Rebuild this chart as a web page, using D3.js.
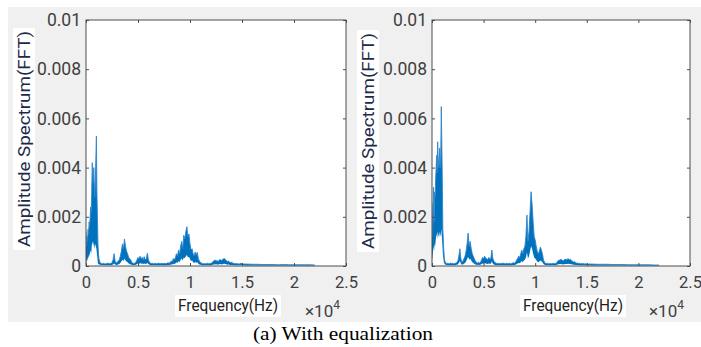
<!DOCTYPE html>
<html>
<head>
<meta charset="utf-8">
<script src="https://cdn.jsdelivr.net/npm/d3@7"></script>
<style>
  body { margin: 0; background: #fff; }
  svg { display: block; }
</style>
</head>
<body>
<svg id="chart" width="701" height="347"></svg>
<script>
// frequency grid (Hz) shared by both spectra
const FREQ_HZ = [
  0,50,100,150,200,250,300,350,400,450,500,550,600,650,700,750,800,850,900,950,1000,1050,1100,1150,1200,1250,1300,1350,1400,
  1500,1600,1700,1800,1900,2000,2100,2200,2300,2400,
  2500,2600,2700,2800,2900,3000,3100,3200,3300,3400,
  3500,3600,3700,3800,3900,4000,4100,4200,4300,4400,
  4500,4600,4700,4800,4900,5000,5100,5200,5300,5400,
  5500,5600,5700,5800,5900,6000,6100,6200,6300,6400,
  6500,6600,6700,6800,6900,7000,7100,7200,7300,7400,
  7500,7600,7700,7800,7900,8000,8100,8200,8300,8400,
  8500,8600,8700,8800,8900,9000,9100,9200,9300,9400,
  9500,9600,9700,9800,9900,10000,10100,10200,10300,10400,
  10500,10600,10700,10800,10900,11000,11100,11200,11300,11400,
  11500,11600,11700,11800,11900,12000,12100,12200,12300,12400,
  12500,12600,12700,12800,12900,13000,13100,13200,13300,13400,
  13500,13600,13700,13800,13900,14000,14100,14200,14300,14400,
  14500,14600,14700,14800,14900,15000,
  15500,16000,16500,17000,17500,18000,18500,19000,19500,20000,20500,21000,21500,22000
];

// amplitudes in units of 1e-4 : upper envelope (peaks) and lower envelope
const LEFT_HI = [
  14,8,12,10,15,13,18,16,20,24,22,30,42,38,34,40,33,28,36,44,52.8,30,20,9,5,3,2,1.5,1.2,
  1.0,0.9,1.1,0.8,1.0,0.9,1.2,1.0,0.9,1.1,
  1.3,2.5,5.0,2.0,1.2,1.5,2.0,2.5,4.0,6.0,
  9.0,7.0,11.0,8.0,6.0,5.0,3.5,3.0,2.5,1.5,
  1.2,1.0,1.2,1.5,2.5,3.5,2.8,4.0,3.0,3.5,
  2.5,3.8,2.5,3.0,5.2,2.5,1.5,1.2,1.0,1.1,
  0.9,1.0,1.1,0.9,1.0,1.2,0.9,1.0,1.1,0.9,
  1.0,1.1,0.9,1.2,1.3,1.1,1.5,2.0,1.8,3.0,
  2.5,3.5,5.0,4.0,6.5,5.0,8.0,10.0,7.0,12.5,
  11.0,14.0,16.0,12.0,13.0,9.0,6.5,7.0,5.0,4.0,
  5.7,4.5,5.5,3.0,2.0,1.5,1.2,1.0,0.9,1.0,
  0.9,1.0,1.1,0.9,1.0,1.0,1.3,1.8,2.0,2.5,
  2.0,2.2,1.8,2.4,2.6,2.2,2.5,2.8,3.0,2.6,
  2.2,1.8,2.0,1.6,1.4,1.5,1.2,1.1,1.0,0.9,
  1.0,0.9,0.8,0.9,1.2,0.8,
  0.8,0.7,0.7,0.6,0.6,0.6,0.5,0.6,0.5,0.5,0.5,0.5,0.5,0.4
];
const LEFT_LO = [
  0.5,2,3,2,4,3,5,4,6,6,5,8,10,9,8,10,8,7,9,8,7,5,3,1,0.8,0.6,0.5,0.5,0.5,
  0.4,0.3,0.4,0.3,0.4,0.3,0.4,0.3,0.4,0.3,
  0.4,0.6,1.0,0.6,0.4,0.5,0.6,0.8,1.2,1.8,
  2.5,2.0,3.0,2.2,1.8,1.5,1.0,0.8,0.6,0.5,
  0.4,0.3,0.4,0.5,0.8,1.0,0.8,1.2,0.9,1.0,
  0.8,1.0,0.8,0.9,1.2,0.8,0.5,0.4,0.3,0.4,
  0.3,0.4,0.3,0.3,0.4,0.3,0.3,0.4,0.3,0.3,
  0.3,0.4,0.3,0.4,0.4,0.4,0.5,0.6,0.6,0.9,
  0.8,1.0,1.5,1.2,2.0,1.5,2.5,3.0,2.2,3.5,
  3.2,4.0,4.5,3.5,3.8,2.8,2.0,2.2,1.5,1.2,
  1.6,1.3,1.5,0.9,0.6,0.5,0.4,0.3,0.3,0.3,
  0.3,0.3,0.4,0.3,0.3,0.3,0.4,0.5,0.6,0.7,
  0.6,0.7,0.5,0.7,0.8,0.6,0.7,0.8,0.9,0.8,
  0.7,0.5,0.6,0.5,0.4,0.4,0.4,0.3,0.3,0.3,
  0.3,0.3,0.3,0.3,0.4,0.3,
  0.2,0.2,0.2,0.2,0.2,0.2,0.2,0.2,0.2,0.2,0.2,0.2,0.2,0.2
];
const RIGHT_HI = [
  25.6,12,20,32,18,30,28,35,40,45,38,50.5,44,40,42,48,40,45,64.8,50,35,15,10.5,6,3,2,1.5,1.2,1,
  1.1,1.0,0.9,1.2,1.0,1.1,0.9,1.0,1.2,1.4,
  2.0,4.0,7.0,3.0,1.5,2.0,3.0,4.0,6.0,9.0,
  13.4,8.0,10.0,7.0,5.0,4.0,3.0,2.0,1.5,1.2,
  1.5,1.2,1.5,2.5,3.5,3.0,4.0,3.2,3.0,2.5,
  3.5,2.8,3.0,6.5,3.0,2.0,1.4,1.2,1.0,1.1,
  1.0,0.9,1.1,1.0,1.2,1.0,0.9,1.1,1.0,1.0,
  1.1,0.9,1.0,1.2,1.3,1.2,1.5,2.5,3.0,4.0,
  3.5,5.0,6.5,5.0,7.0,8.0,12.0,20.7,10.0,14.0,
  22.0,30.2,25.0,18.0,12.0,10.6,8.0,6.0,5.0,6.0,
  7.7,6.5,5.0,2.5,1.5,1.2,1.0,1.1,0.9,1.0,
  1.0,0.9,1.1,1.0,1.0,1.0,1.5,2.0,2.5,2.2,
  2.8,2.3,2.0,2.4,2.8,2.5,2.7,3.0,2.5,2.8,
  2.2,2.0,1.6,1.8,1.4,1.2,1.2,1.0,1.1,0.9,
  1.0,0.9,1.0,0.8,0.9,0.8,
  0.8,0.7,0.7,0.7,0.6,0.6,0.6,0.5,0.5,0.5,0.5,0.5,0.4,0.4
];
const RIGHT_LO = [
  2,4,6,8,6,9,8,10,12,13,11,14,13,12,12,14,12,13,15,12,9,5,3,1.5,1,0.7,0.5,0.5,0.4,
  0.4,0.3,0.3,0.4,0.3,0.4,0.3,0.3,0.4,0.5,
  0.6,1.2,2.0,1.0,0.5,0.6,0.9,1.2,1.8,2.8,
  3.8,2.5,3.0,2.2,1.6,1.2,0.9,0.6,0.5,0.4,
  0.5,0.4,0.5,0.8,1.0,0.9,1.2,1.0,0.9,0.8,
  1.0,0.9,0.9,1.8,0.9,0.6,0.4,0.4,0.3,0.4,
  0.3,0.3,0.4,0.3,0.4,0.3,0.3,0.4,0.3,0.3,
  0.4,0.3,0.3,0.4,0.4,0.4,0.5,0.8,1.0,1.2,
  1.1,1.5,2.0,1.5,2.2,2.5,3.5,5.5,3.0,4.0,
  6.0,8.0,7.0,5.0,3.5,3.0,2.4,1.8,1.5,1.8,
  2.2,1.9,1.5,0.8,0.5,0.4,0.3,0.4,0.3,0.3,
  0.3,0.3,0.4,0.3,0.3,0.3,0.5,0.6,0.8,0.7,
  0.8,0.7,0.6,0.7,0.8,0.8,0.8,0.9,0.8,0.8,
  0.7,0.6,0.5,0.5,0.4,0.4,0.4,0.3,0.3,0.3,
  0.3,0.3,0.3,0.3,0.3,0.3,
  0.2,0.2,0.2,0.2,0.2,0.2,0.2,0.2,0.2,0.2,0.2,0.2,0.2,0.2
];
const AMP_UNIT = 1e-4;

const X_TICKS = [0, 5000, 10000, 15000, 20000, 25000];
const Y_TICKS = [0, 0.002, 0.004, 0.006, 0.008, 0.01];
const Y_LABEL = "Amplitude Spectrum(FFT)";
const X_LABEL = "Frequency(Hz)";
const CAPTION = "(a) With equalization";

const svg = d3.select("#chart");
const font = "Roboto, 'DejaVu Sans', sans-serif";
const tickColor = "#404040";
const plotTop = 20, plotBottom = 266;

// grey figure background
svg.append("rect").attr("x", 8).attr("y", 7).attr("width", 693).attr("height", 315)
  .attr("fill", "#f0f0f0");

const panels = [
  {left: 86, right: 346, hi: LEFT_HI, lo: LEFT_LO, yLabelX: 24, yLabelCy: 139, xLabelCx: 228},
  {left: 432, right: 690, hi: RIGHT_HI, lo: RIGHT_LO, yLabelX: 368, yLabelCy: 141, xLabelCx: 573}
];

panels.forEach((p, idx) => {
  const x = d3.scaleLinear().domain([0, 25000]).range([p.left, p.right]);
  const y = d3.scaleLinear().domain([0, 0.01]).range([plotBottom, plotTop]);

  svg.append("rect").attr("x", p.left).attr("y", plotTop)
    .attr("width", p.right - p.left).attr("height", plotBottom - plotTop).attr("fill", "#fff");

  const clipId = "clip" + idx;
  svg.append("clipPath").attr("id", clipId).append("rect")
    .attr("x", p.left).attr("y", plotTop).attr("width", p.right - p.left).attr("height", plotBottom - plotTop);

  const rows = FREQ_HZ.map((f, i) => ({f: f, hi: p.hi[i] * AMP_UNIT, lo: p.lo[i] * AMP_UNIT}));

  const area = d3.area().x(d => x(d.f)).y0(d => y(d.lo)).y1(d => y(d.hi));
  const line = d3.line().x(d => x(d.f)).y(d => y(d.hi));

  const g = svg.append("g").attr("clip-path", `url(#${clipId})`);
  g.append("path").datum(rows).attr("d", area).attr("fill", "#0072BD");
  g.append("path").datum(rows).attr("d", line)
    .attr("fill", "none").attr("stroke", "#2f86cc").attr("stroke-width", 0.9);

  // axes with inward ticks
  const fmtX = d => d3.format("~g")(d / 1e4);
  const xAxis = svg.append("g").attr("transform", `translate(0,${plotBottom})`)
    .call(d3.axisBottom(x).tickValues(X_TICKS).tickFormat(fmtX).tickSize(-3).tickPadding(10));
  const yAxis = svg.append("g").attr("transform", `translate(${p.left},0)`)
    .call(d3.axisLeft(y).tickValues(Y_TICKS).tickFormat(d3.format("~g")).tickSize(-3).tickPadding(5));
  const xTop = svg.append("g").attr("transform", `translate(0,${plotTop})`)
    .call(d3.axisTop(x).tickValues(X_TICKS).tickFormat("").tickSize(-3));
  const yRight = svg.append("g").attr("transform", `translate(${p.right},0)`)
    .call(d3.axisRight(y).tickValues(Y_TICKS).tickFormat("").tickSize(-3));

  [xAxis, yAxis, xTop, yRight].forEach(a => {
    a.select(".domain").remove();
    a.selectAll("line").attr("stroke", "#4d4d4d");
    a.selectAll("text").attr("fill", tickColor)
      .style("font-family", font).style("font-size", "17.5px");
  });
  xAxis.selectAll("text").style("font-size", "16.5px");

  svg.append("rect").attr("x", p.left).attr("y", plotTop)
    .attr("width", p.right - p.left).attr("height", plotBottom - plotTop)
    .attr("fill", "none").attr("stroke", "#4d4d4d").attr("stroke-width", 1);

  // y label with white box
  svg.append("rect").attr("x", p.yLabelX - 11).attr("y", p.yLabelCy - 111)
    .attr("width", 22).attr("height", 222).attr("fill", "#fff");
  svg.append("text")
    .attr("transform", `translate(${p.yLabelX + 6},${p.yLabelCy}) rotate(-90)`)
    .attr("text-anchor", "middle")
    .attr("textLength", 216).attr("lengthAdjust", "spacingAndGlyphs")
    .style("font-family", font).style("font-size", "17px")
    .attr("fill", "#1c2a4a").text(Y_LABEL);

  // x label with white box
  const cx = p.xLabelCx;
  svg.append("rect").attr("x", cx - 53).attr("y", 295)
    .attr("width", 106).attr("height", 22).attr("fill", "#fff");
  svg.append("text").attr("x", cx).attr("y", 311)
    .attr("text-anchor", "middle")
    .attr("textLength", 100).attr("lengthAdjust", "spacingAndGlyphs")
    .style("font-family", font).style("font-size", "17px")
    .attr("fill", "#222").text(X_LABEL);

  // x10^4 exponent
  const ex = svg.append("text").attr("x", p.right - 41).attr("y", 317)
    .style("font-family", font).style("font-size", "17px").attr("fill", tickColor);
  ex.append("tspan").text("\u00d710");
  ex.append("tspan").attr("dy", -8).style("font-size", "12px").text("4");
});

svg.append("text").attr("x", 343).attr("y", 340)
  .attr("text-anchor", "middle")
  .attr("textLength", 180).attr("lengthAdjust", "spacingAndGlyphs")
  .style("font-family", "'Liberation Serif', 'Times New Roman', serif")
  .style("font-size", "18px").attr("fill", "#000").text(CAPTION);
</script>
</body>
</html>
